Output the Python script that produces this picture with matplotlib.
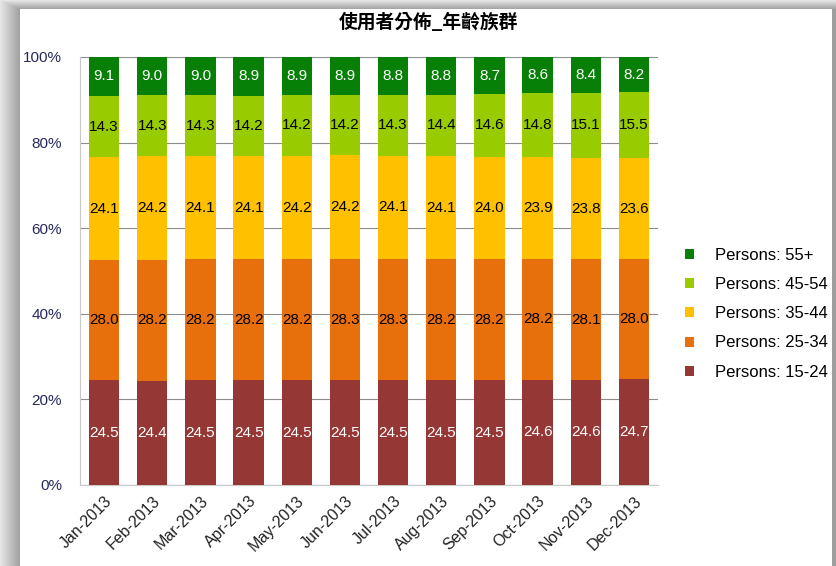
import matplotlib.pyplot as plt
from matplotlib.patches import Rectangle
import numpy as np

months = ['Jan-2013', 'Feb-2013', 'Mar-2013', 'Apr-2013', 'May-2013', 'Jun-2013',
          'Jul-2013', 'Aug-2013', 'Sep-2013', 'Oct-2013', 'Nov-2013', 'Dec-2013']

age_15_24 = [24.5, 24.4, 24.5, 24.5, 24.5, 24.5, 24.5, 24.5, 24.5, 24.6, 24.6, 24.7]
age_25_34 = [28.0, 28.2, 28.2, 28.2, 28.2, 28.3, 28.3, 28.2, 28.2, 28.2, 28.1, 28.0]
age_35_44 = [24.1, 24.2, 24.1, 24.1, 24.2, 24.2, 24.1, 24.1, 24.0, 23.9, 23.8, 23.6]
age_45_54 = [14.3, 14.3, 14.3, 14.2, 14.2, 14.2, 14.3, 14.4, 14.6, 14.8, 15.1, 15.5]
age_55 = [9.1, 9.0, 9.0, 8.9, 8.9, 8.9, 8.8, 8.8, 8.7, 8.6, 8.4, 8.2]

series_names = ['Persons: 15-24', 'Persons: 25-34', 'Persons: 35-44',
                'Persons: 45-54', 'Persons: 55+']
series_values = [age_15_24, age_25_34, age_35_44, age_45_54, age_55]
colors = ['#953735', '#e8700c', '#ffc000', '#99cc00', '#088008']
label_colors = ['white', 'black', 'black', 'black', 'white']

plt.rcParams['font.family'] = ['Liberation Sans', 'DejaVu Sans']

fig = plt.figure(figsize=(8.36, 5.66), dpi=100)
fig.patch.set_facecolor('#c8c8c8')

# grey shadow round the card, darker near the card's edge
bg = fig.add_axes([0, 0, 1, 1], zorder=-20)
xs = np.arange(836)
ys = np.arange(566)
dx = np.clip(20 - xs, 0, 20) / 20.0
dy = np.clip(9 - ys, 0, 9) / 9.0
shade = 0.62 + 0.28 * np.maximum(dx[None, :], dy[:, None])
bg.imshow(np.dstack([shade] * 3), aspect='auto', extent=(0, 836, 566, 0))
bg.axis('off')

card = Rectangle((20 / 836, 0), 812 / 836, 1 - 9 / 566, transform=fig.transFigure,
                 facecolor='white', edgecolor='none', zorder=-10)
fig.patches.append(card)

ax = fig.add_axes([80 / 836, 1 - 485 / 566, 578 / 836, 428 / 566])
ax.set_facecolor('white')

x = np.arange(len(months))
bottom = np.zeros(len(months))
handles = []
for name, vals, col, lcol in zip(series_names, series_values, colors, label_colors):
    vals = np.array(vals)
    bars = ax.bar(x, vals, 0.63, bottom=bottom, color=col, label=name, zorder=3)
    handles.append(bars)
    for xi, b, v in zip(x, bottom, vals):
        ax.text(xi, b + v / 2, f"{v:.1f}", ha='center', va='center',
                fontsize=11, color=lcol, zorder=4)
    bottom = bottom + vals

ax.set_xlim(-0.5, len(months) - 0.5)
ax.set_ylim(0, 100)
ax.set_yticks([0, 20, 40, 60, 80, 100])
ax.set_yticklabels(['0%', '20%', '40%', '60%', '80%', '100%'], fontsize=11, color='#262a5a')
ax.set_xticks(x)
ax.set_xticklabels(months, rotation=45, ha='right', rotation_mode='anchor',
                   fontsize=11.5, color='#222222')
ax.tick_params(length=0, pad=6)
ax.tick_params(axis='y', pad=13)
ax.grid(axis='y', color='#8c8c8c', linewidth=0.8, zorder=1)
for side in ['top', 'right']:
    ax.spines[side].set_visible(False)
ax.spines['left'].set_color('#c8c8c8')
ax.spines['bottom'].set_color('#c8c8c8')

fig.text(428 / 836, 1 - 22 / 566, '使用者分佈_年齡族群', ha='center', va='center',
         fontsize=13.5, fontweight='bold',
         family=['Noto Sans CJK TC', 'DejaVu Sans'])

leg = ax.legend(handles[::-1], series_names[::-1], loc='center left',
                bbox_to_anchor=(1.02, 0.4), frameon=False, fontsize=12,
                handlelength=0.55, handleheight=0.55, handletextpad=1.3,
                labelspacing=0.85)

plt.savefig('out.png', dpi=100)
